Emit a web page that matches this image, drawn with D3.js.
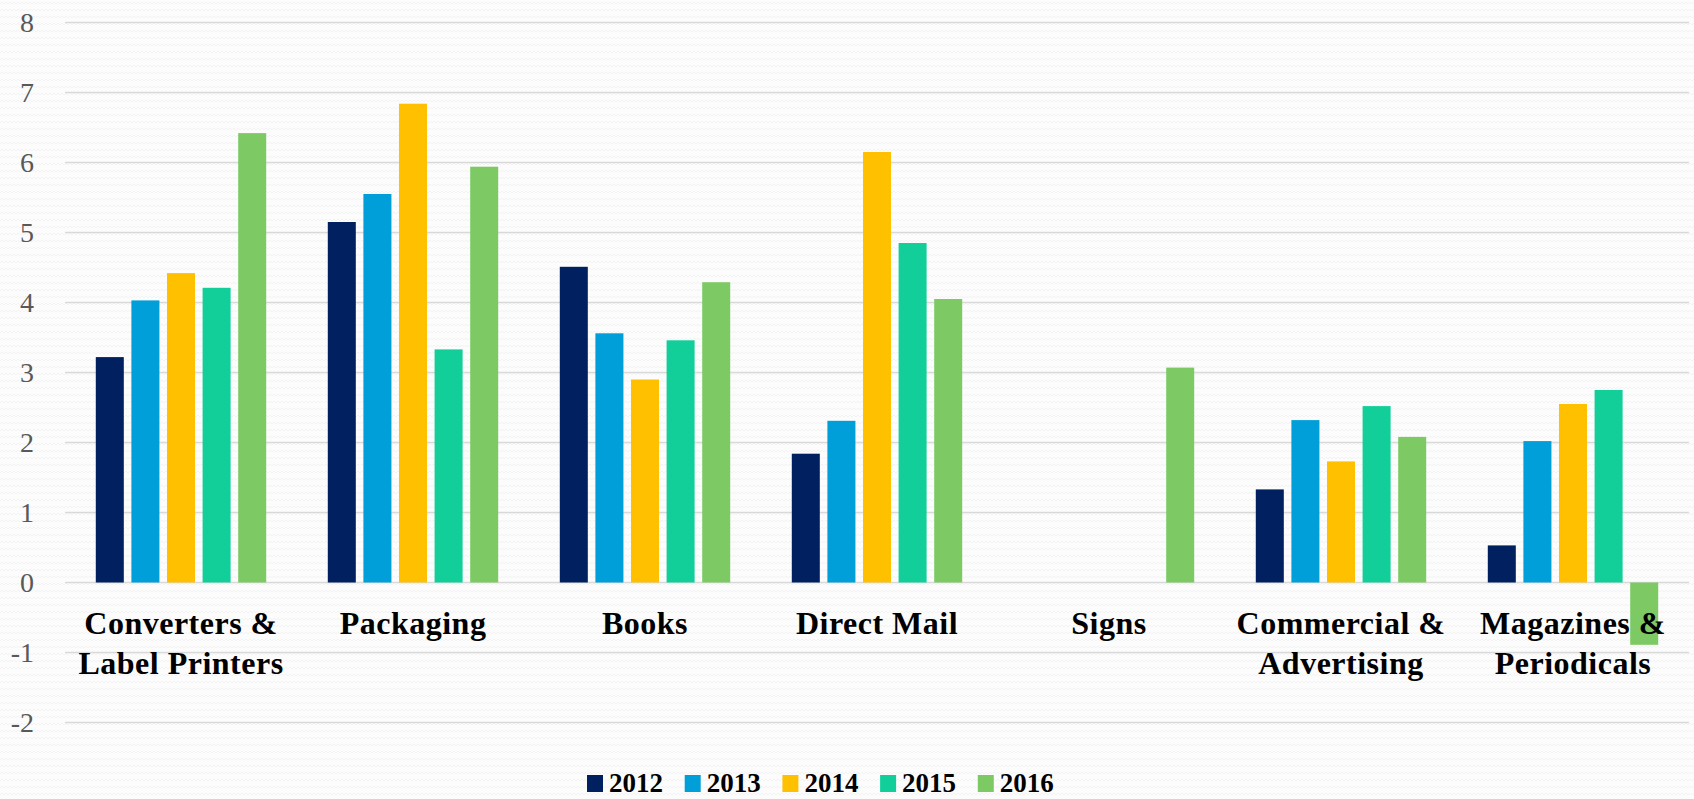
<!DOCTYPE html>
<html>
<head>
<meta charset="utf-8">
<script src="https://cdn.jsdelivr.net/npm/d3@7"></script>
<style>
  html, body { margin: 0; padding: 0; background: #fbfbfb; }
  svg { display: block; }
  .tick-label { font-family: "Liberation Serif", serif; fill: #595959; }
  .cat-label { font-family: "Liberation Serif", serif; font-weight: bold; fill: #000; }
  .legend-label { font-family: "Liberation Serif", serif; font-weight: bold; fill: #000; }
</style>
</head>
<body>
<svg id="chart" width="1694" height="799"></svg>
<script>
// --- DATA ---
const categories = [
    ["Converters &", "Label Printers"],
    ["Packaging"],
    ["Books"],
    ["Direct Mail"],
    ["Signs"],
    ["Commercial &", "Advertising"],
    ["Magazines &", "Periodicals"]
];
const years = ["2012", "2013", "2014", "2015", "2016"];
const colors = ["#002060", "#009fd9", "#ffc000", "#12cf9a", "#7dca65"];

// one array per year, in category order (null = no bar)
const v2012 = [3.22, 5.15, 4.51, 1.84, null, 1.33, 0.53];
const v2013 = [4.03, 5.55, 3.56, 2.31, null, 2.32, 2.02];
const v2014 = [4.42, 6.84, 2.90, 6.15, null, 1.73, 2.55];
const v2015 = [4.21, 3.33, 3.46, 4.85, null, 2.52, 2.75];
const v2016 = [6.42, 5.94, 4.29, 4.05, 3.07, 2.08, -0.89];
const series = [v2012, v2013, v2014, v2015, v2016];

const yTicks = [-2, -1, 0, 1, 2, 3, 4, 5, 6, 7, 8];

// --- SETUP ---
const svg = d3.select("#chart");
const W = 1694, H = 799;
const plot = { left: 65, right: 1689, top: 22.5, bottom: 722.5 };

// subtle zigzag background
const defs = svg.append("defs");
const pat = defs.append("pattern")
    .attr("id", "zigzag").attr("patternUnits", "userSpaceOnUse")
    .attr("width", 8).attr("height", 7);
pat.append("rect").attr("width", 8).attr("height", 7).attr("fill", "#fcfcfc");
pat.append("path").attr("d", "M0,4 L2,2 L4,4 L6,2 L8,4")
    .attr("fill", "none").attr("stroke", "#f3f3f3").attr("stroke-width", 1);
svg.append("rect").attr("width", W).attr("height", H).attr("fill", "url(#zigzag)");

const x0 = d3.scaleBand()
    .domain(d3.range(categories.length))
    .range([plot.left, plot.right]);

const x1 = d3.scaleBand()
    .domain(years)
    .range([0, x0.bandwidth()])
    .paddingInner(0.213)
    .paddingOuter(0.865);

const y = d3.scaleLinear().domain([-2, 8]).range([plot.bottom, plot.top]);

// gridlines
svg.append("g").selectAll("line").data(yTicks).join("line")
    .attr("x1", plot.left).attr("x2", plot.right)
    .attr("y1", d => y(d)).attr("y2", d => y(d))
    .attr("stroke", "#d9d9d9").attr("stroke-width", 1.5);

// y tick labels
svg.append("g").selectAll("text").data(yTicks).join("text")
    .attr("class", "tick-label")
    .attr("x", 34).attr("y", d => y(d))
    .attr("dy", "0.35em")
    .attr("text-anchor", "end")
    .attr("font-size", 28)
    .text(d => d);

// bars
const groups = svg.append("g").selectAll("g").data(categories).join("g")
    .attr("transform", (d, i) => `translate(${x0(i)},0)`);

groups.selectAll("rect")
    .data((d, i) => years.map((yr, k) => ({ yr, k, v: series[k][i] })).filter(d => d.v != null))
    .join("rect")
    .attr("x", d => x1(d.yr))
    .attr("width", x1.bandwidth())
    .attr("y", d => y(Math.max(0, d.v)))
    .attr("height", d => Math.abs(y(d.v) - y(0)))
    .attr("fill", d => colors[d.k]);

// category labels (drawn above the bars, like the reference)
svg.append("g").selectAll("text").data(categories).join("text")
    .attr("class", "cat-label")
    .attr("text-anchor", "middle")
    .attr("font-size", 32)
    .attr("letter-spacing", 0.5)
    .attr("transform", (d, i) => `translate(${x0(i) + x0.bandwidth() / 2},634)`)
    .selectAll("tspan").data(d => d).join("tspan")
    .attr("x", 0).attr("dy", (d, i) => i ? 40 : 0)
    .text(d => d);

// legend
const legend = svg.append("g").attr("transform", "translate(587,775)");
const item = legend.selectAll("g").data(years).join("g")
    .attr("transform", (d, i) => `translate(${i * 97.7},0)`);
item.append("rect").attr("width", 16).attr("height", 17)
    .attr("fill", (d, i) => colors[i]);
item.append("text").attr("class", "legend-label")
    .attr("x", 22).attr("y", 17)
    .attr("font-size", 27)
    .text(d => d);
</script>
</body>
</html>
